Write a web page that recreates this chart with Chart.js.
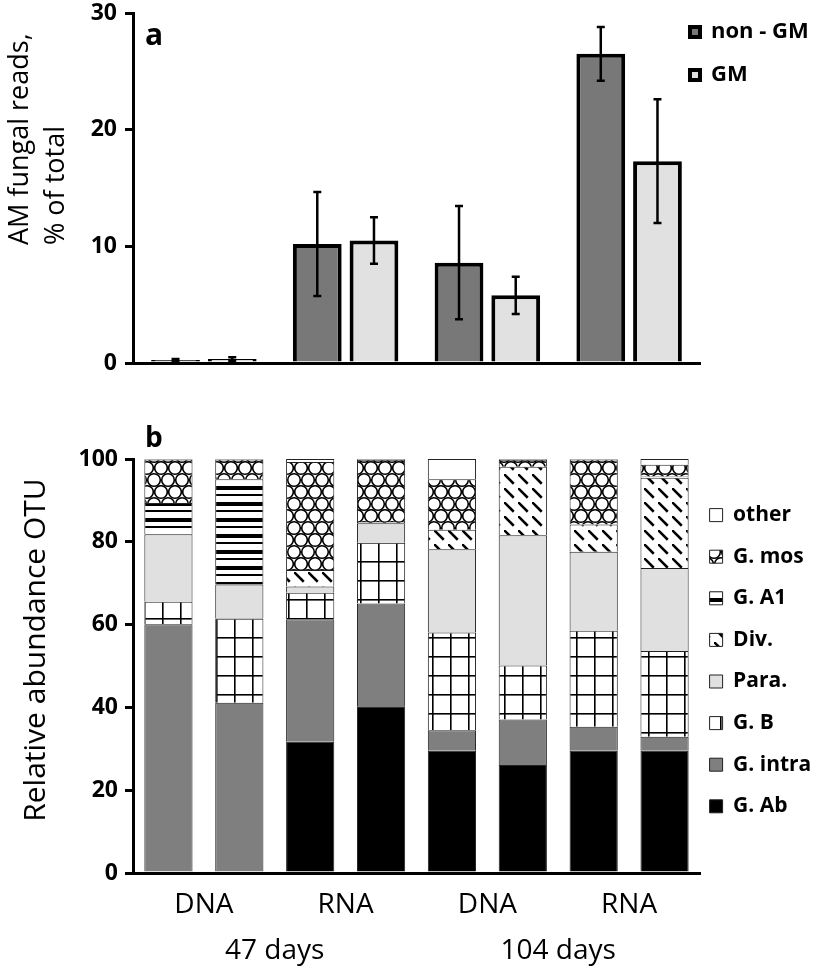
<!DOCTYPE html>
<html>
<head>
<meta charset="utf-8">
<script src="https://cdn.jsdelivr.net/npm/chart.js@4.4.1/dist/chart.umd.min.js"></script>
<style>
  html, body { margin: 0; padding: 0; background: #fff; }
  #wrap { position: relative; width: 816px; height: 968px; }
  #readsChart { position: absolute; left: 0; top: 0; }
  #otuChart { position: absolute; left: 0; top: 390px; }
</style>
</head>
<body>
<div id="wrap">
  <canvas id="readsChart" width="816" height="390"></canvas>
  <canvas id="otuChart" width="816" height="578"></canvas>
</div>
<script>
// Panel a: AM fungal reads, % of total (mean and error)
const groups = ['DNA 47 d', 'RNA 47 d', 'DNA 104 d', 'RNA 104 d'];
const nonGM = [0.25, 10.2, 8.6, 26.5];
const nonGMErr = [0.1, 4.45, 4.85, 2.3];
const gm = [0.35, 10.5, 5.8, 17.3];
const gmErr = [0.15, 2.0, 1.6, 5.3];
const readsTicks = [0, 10, 20, 30];

// Panel b: relative abundance of OTUs, bottom of the stack first
const samples = ['DNA 47 d non-GM', 'DNA 47 d GM', 'RNA 47 d non-GM', 'RNA 47 d GM',
                 'DNA 104 d non-GM', 'DNA 104 d GM', 'RNA 104 d non-GM', 'RNA 104 d GM'];
const typeLabels = ['DNA', 'RNA', 'DNA', 'RNA'];
const dayLabels = ['47 days', '104 days'];
const otuTicks = [0, 20, 40, 60, 80, 100];
const gAb    = [0, 0, 31.7, 40.3, 29.5, 26.1, 29.5, 29.5];
const gIntra = [60.1, 41.1, 29.6, 24.8, 5.0, 11.0, 5.8, 3.4];
const gB     = [5.4, 20.4, 6.4, 14.7, 23.6, 13.0, 23.2, 20.7];
const para   = [16.3, 8.2, 1.5, 4.7, 20.1, 31.5, 19.1, 20.1];
const divs   = [0, 0, 4.0, 0.3, 4.7, 16.5, 6.6, 21.8];
const gA1    = [7.6, 25.4, 0, 0, 0, 0, 0, 0.3];
const gMos   = [10.5, 4.8, 26.1, 15.0, 12.2, 1.7, 15.7, 2.8];
const other  = [0.1, 0.1, 0.7, 0.2, 4.9, 0.2, 0.1, 1.4];

Chart.defaults.font.family = '"Open Sans", sans-serif';
Chart.defaults.color = '#000';

// little tiles for the hatched fills
function makePattern(target, w, h, draw) {
  const c = document.createElement('canvas');
  c.width = w; c.height = h;
  const g = c.getContext('2d');
  g.fillStyle = '#fff';
  g.fillRect(0, 0, w, h);
  g.fillStyle = '#000';
  g.strokeStyle = '#000';
  draw(g, w, h);
  return target.getContext('2d').createPattern(c, 'repeat');
}

const otuCanvas = document.getElementById('otuChart');

const gridFill = makePattern(otuCanvas, 18, 19, (g, w, h) => {
  g.fillRect(0, 0, w, 1.6);
  g.fillRect(0, 0, 1.6, h);
});
const stripeFill = makePattern(otuCanvas, 4, 16, (g, w) => {
  g.fillRect(0, 0, w, 4);
  g.fillRect(0, 8, w, 2);
});
const diagFill = makePattern(otuCanvas, 14, 14, (g) => {
  g.lineWidth = 2.5;
  g.setLineDash([13.8, 6]);
  g.beginPath();
  g.moveTo(0, 0);
  g.lineTo(14, 14);
  g.stroke();
  g.setLineDash([]);
  g.beginPath();
  g.moveTo(-3, -3); g.lineTo(1, 1);
  g.stroke();
});
const circleFill = makePattern(otuCanvas, 14, 24, (g) => {
  g.lineWidth = 1.6;
  [[7, 6], [7, 30], [0, 18], [14, 18], [0, -6], [14, -6]].forEach(([cx, cy]) => {
    g.beginPath();
    g.arc(cx, cy, 6.3, 0, Math.PI * 2);
    g.stroke();
  });
});

// error bars on panel a
const errorBars = {
  id: 'errorBars',
  afterDatasetsDraw(chart) {
    const ctx = chart.ctx;
    const y = chart.scales.y;
    ctx.save();
    ctx.strokeStyle = '#000';
    ctx.lineWidth = 2.5;
    chart.data.datasets.forEach((ds, i) => {
      chart.getDatasetMeta(i).data.forEach((bar, j) => {
        const hi = y.getPixelForValue(ds.data[j] + ds.errors[j]);
        const lo = y.getPixelForValue(ds.data[j] - ds.errors[j]);
        ctx.beginPath();
        ctx.moveTo(bar.x, hi); ctx.lineTo(bar.x, lo);
        ctx.moveTo(bar.x - 4, hi); ctx.lineTo(bar.x + 4, hi);
        ctx.moveTo(bar.x - 4, lo); ctx.lineTo(bar.x + 4, lo);
        ctx.stroke();
      });
    });
    ctx.restore();
  }
};

// panel letter and the rotated y title
const panelText = {
  id: 'panelText',
  afterDraw(chart, args, opts) {
    const ctx = chart.ctx;
    ctx.save();
    ctx.fillStyle = '#000';
    ctx.font = opts.letterFont;
    ctx.textAlign = 'left';
    ctx.textBaseline = 'alphabetic';
    ctx.fillText(opts.letter, opts.letterX, opts.letterY);
    ctx.font = opts.titleFont;
    opts.lines.forEach(ln => {
      ctx.save();
      ctx.translate(ln.x, ln.y);
      ctx.rotate(-Math.PI / 2);
      ctx.textAlign = ln.align;
      ctx.textBaseline = 'middle';
      ctx.fillText(ln.text, 0, 0);
      ctx.restore();
    });
    ctx.restore();
  }
};

// move the legend into place next to the plot (keep its right edge at the canvas edge)
const legendNudge = {
  id: 'legendNudge',
  afterLayout(chart, args, opts) {
    const lg = chart.legend;
    if (!lg) return;
    lg.left += opts.dx;
    lg.width -= opts.dx;
    lg.top += opts.dy; lg.bottom += opts.dy;
  }
};

// y axis with a fixed width and no extra room for its end labels
const fitY = s => { s.width = 133; s.paddingTop = 0; s.paddingBottom = 0; };
const fitX = h => s => { s.height = h; s.paddingLeft = 0; s.paddingRight = 0; };

// Panel a
new Chart(document.getElementById('readsChart'), {
  type: 'bar',
  data: {
    labels: groups,
    datasets: [
      { label: 'non - GM', data: nonGM, errors: nonGMErr, backgroundColor: '#787878', borderColor: '#000', borderWidth: 4 },
      { label: 'GM', data: gm, errors: gmErr, backgroundColor: '#e1e1e1', borderColor: '#000', borderWidth: 4 }
    ]
  },
  plugins: [errorBars, panelText, legendNudge],
  options: {
    responsive: false,
    animation: false,
    layout: { padding: { top: 13, left: 0, right: 0, bottom: 0 } },
    categoryPercentage: 0.8,
    barPercentage: 0.86,
    scales: {
      x: {
        grid: { display: false, drawTicks: false },
        ticks: { display: false },
        border: { color: '#000', width: 3 },
        afterFit: fitX(27)
      },
      y: {
        min: 0, max: 30,
        afterBuildTicks: s => { s.ticks = readsTicks.map(v => ({ value: v })); },
        grid: { drawOnChartArea: false, color: '#000', lineWidth: 3, tickLength: 8 },
        border: { color: '#000', width: 3 },
        ticks: { color: '#000', padding: 8, font: { size: 23, weight: 'bold' } },
        afterFit: fitY
      }
    },
    plugins: {
      tooltip: { enabled: false },
      legend: {
        position: 'right',
        align: 'start',
        maxWidth: 116,
        labels: { boxWidth: 10, boxHeight: 10, padding: 21, color: '#000', font: { size: 22, weight: 'bold' } }
      },
      legendNudge: { dx: -31, dy: -13 },
      panelText: {
        letter: 'a', letterX: 145, letterY: 45, letterFont: 'bold 30px "Open Sans"',
        titleFont: '27px "Open Sans"',
        lines: [
          { text: 'AM fungal reads,', x: 20, y: 245, align: 'left' },
          { text: '% of total', x: 56, y: 245, align: 'left' }
        ]
      }
    }
  }
});

// Panel b
const seriesStyle = { borderColor: '#222', borderWidth: 1, xAxisID: 'x' };
new Chart(otuCanvas, {
  type: 'bar',
  data: {
    labels: samples,
    datasets: [
      { label: 'G. Ab', data: gAb, backgroundColor: '#000', ...seriesStyle },
      { label: 'G. intra', data: gIntra, backgroundColor: '#7f7f7f', ...seriesStyle },
      { label: 'G. B', data: gB, backgroundColor: gridFill, ...seriesStyle },
      { label: 'Para.', data: para, backgroundColor: '#e0e0e0', ...seriesStyle },
      { label: 'Div.', data: divs, backgroundColor: diagFill, ...seriesStyle },
      { label: 'G. A1', data: gA1, backgroundColor: stripeFill, ...seriesStyle },
      { label: 'G. mos', data: gMos, backgroundColor: circleFill, ...seriesStyle },
      { label: 'other', data: other, backgroundColor: '#fff', ...seriesStyle }
    ]
  },
  plugins: [panelText, legendNudge],
  options: {
    responsive: false,
    animation: false,
    layout: { padding: { top: 69, left: 0, right: 0, bottom: 0 } },
    categoryPercentage: 0.8,
    barPercentage: 0.85,
    scales: {
      x: {
        stacked: true,
        grid: { display: false, drawTicks: false },
        ticks: { display: false },
        border: { color: '#000', width: 3 },
        afterFit: fitX(15)
      },
      xType: {
        type: 'category',
        labels: typeLabels,
        position: 'bottom',
        grid: { display: false, drawTicks: false },
        border: { display: false },
        ticks: { color: '#000', padding: 0, font: { size: 28 } },
        afterFit: fitX(46)
      },
      xDays: {
        type: 'category',
        labels: dayLabels,
        position: 'bottom',
        grid: { display: false, drawTicks: false },
        border: { display: false },
        ticks: { color: '#000', padding: 0, font: { size: 28 } },
        afterFit: fitX(34)
      },
      y: {
        stacked: true,
        min: 0, max: 100,
        afterBuildTicks: s => { s.ticks = otuTicks.map(v => ({ value: v })); },
        grid: { drawOnChartArea: false, color: '#000', lineWidth: 3, tickLength: 8 },
        border: { color: '#000', width: 3 },
        ticks: { color: '#000', padding: 7, font: { size: 23, weight: 'bold' } },
        afterFit: fitY
      }
    },
    plugins: {
      tooltip: { enabled: false },
      legend: {
        position: 'right',
        align: 'start',
        reverse: true,
        maxWidth: 116,
        labels: { boxWidth: 13, boxHeight: 13, padding: 20.6, color: '#000', font: { size: 21, weight: 'bold' } }
      },
      legendNudge: { dx: -11, dy: 25 },
      panelText: {
        letter: 'b', letterX: 145, letterY: 57, letterFont: 'bold 28px "Open Sans"',
        titleFont: '30px "Open Sans"',
        lines: [
          { text: 'Relative abundance OTU', x: 36, y: 260, align: 'center' }
        ]
      }
    }
  }
});
</script>
</body>
</html>
